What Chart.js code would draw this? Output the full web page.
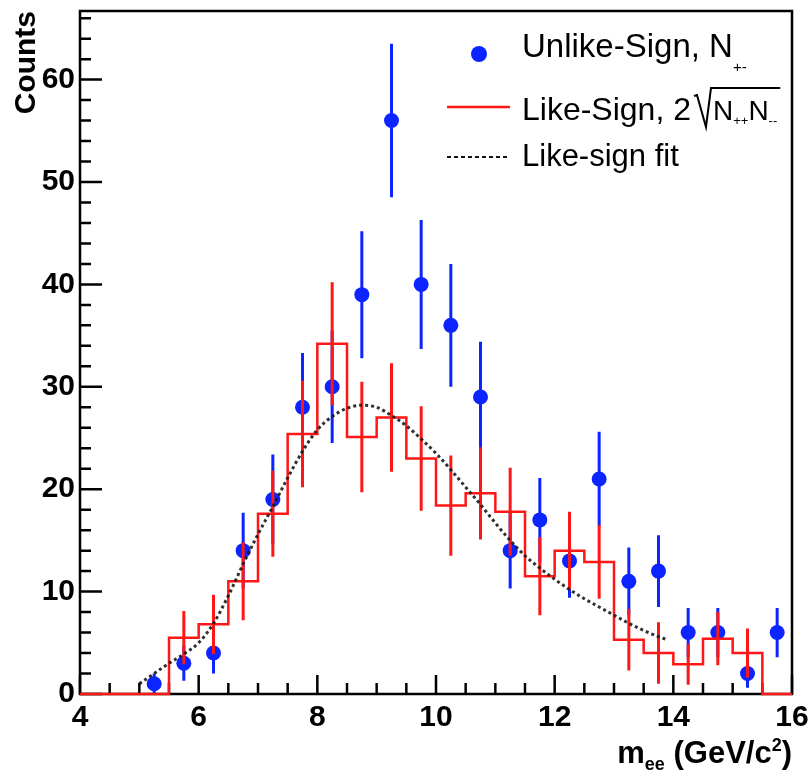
<!DOCTYPE html>
<html lang="en">
<head>
<meta charset="UTF-8">
<title>Unlike-sign vs like-sign mee</title>
<script src="https://cdn.jsdelivr.net/npm/chart.js"></script>
<style>
  body { margin: 0; background: #fff; }
  #wrap { position: relative; width: 810px; height: 772px; }
</style>
</head>
<body>
<div id="wrap"><canvas id="meeChart"></canvas></div>
<script>
// unlike-sign points (bin centres, counts, stat errors)
const binCenters = [5.25, 5.75, 6.25, 6.75, 7.25, 7.75, 8.25, 8.75, 9.25, 9.75, 10.25,
                    10.75, 11.25, 11.75, 12.25, 12.75, 13.25, 13.75, 14.25, 14.75, 15.25, 15.75];
const unlikeCounts = [1, 3, 4, 14, 19, 28, 30, 39, 56, 40, 36, 29, 14, 17, 13, 21, 11, 12, 6, 6, 2, 6];
const unlikeErr = [1.0, 1.7, 2.0, 3.7, 4.4, 5.3, 5.5, 6.2, 7.5, 6.3, 6.0, 5.4, 3.7, 4.1, 3.6, 4.6, 3.3, 3.5, 2.4, 2.4, 1.4, 2.4];

// like-sign histogram, 0.5 wide bins from 4 to 16
const histEdges = [4, 4.5, 5, 5.5, 6, 6.5, 7, 7.5, 8, 8.5, 9, 9.5, 10, 10.5, 11, 11.5, 12, 12.5,
                   13, 13.5, 14, 14.5, 15, 15.5, 16];
const likeValues = [0, 0, 0, 5.5, 6.8, 11, 17.6, 25.4, 34.2, 25.1, 27, 23, 18.4, 19.6, 17.8, 11.5,
                    14, 12.9, 5.3, 4, 2.9, 5.4, 4, 0];
const likeErr = [0, 0, 0, 2.6, 2.9, 3.8, 4.2, 5.2, 6.0, 5.4, 5.3, 5.1, 4.9, 4.5, 4.3, 3.8,
                 3.8, 3.6, 3.0, 3.0, 2.0, 2.6, 2.4, 0];

// like-sign fit curve
const fitX = [5.0, 5.25, 5.5, 5.75, 6.0, 6.25, 6.5, 6.75, 7.0, 7.25, 7.5, 7.75, 8.0, 8.25, 8.5, 8.75,
              9.0, 9.25, 9.5, 9.75, 10.0, 10.25, 10.5, 10.75, 11.0, 11.25, 11.5, 11.75, 12.0, 12.25,
              12.5, 12.75, 13.0, 13.25, 13.5, 13.75, 13.9];
const fitY = [1.0, 2.0, 3.0, 3.9, 5.0, 6.9, 9.6, 12.7, 15.6, 18.3, 21.1, 23.7, 25.8, 27.1, 27.9, 28.2,
              28.0, 27.2, 26.2, 24.9, 23.5, 21.9, 20.2, 18.5, 16.7, 15.0, 13.5, 12.3, 11.2, 10.2,
              9.3, 8.5, 7.7, 6.9, 6.2, 5.6, 5.3];

const xTicks = [4, 6, 8, 10, 12, 14, 16];
const yTicks = [0, 10, 20, 30, 40, 50, 60];

const FONT = '"Liberation Sans", Arial, Helvetica, sans-serif';
const BLUE = 'rgb(12, 36, 255)';
const RED = 'rgb(255, 22, 22)';

const likeCenters = likeValues.map((v, i) => histEdges[i] + 0.25);
const histPoints = histEdges.map((x, i) => ({ x: x, y: i < likeValues.length ? likeValues[i] : likeValues[likeValues.length - 1] }));

function drawErrors(chart, xs, ys, errs, color) {
    const sx = chart.scales.x, sy = chart.scales.y, ctx = chart.ctx;
    ctx.save();
    ctx.strokeStyle = color;
    ctx.lineWidth = 3;
    ctx.beginPath();
    xs.forEach((v, i) => {
        if (!errs[i]) return;
        const px = sx.getPixelForValue(v);
        ctx.moveTo(px, sy.getPixelForValue(ys[i] - errs[i]));
        ctx.lineTo(px, sy.getPixelForValue(ys[i] + errs[i]));
    });
    ctx.stroke();
    ctx.restore();
}

// frame with inward ticks (ROOT style), error bars, legend and x title
const rootStyle = {
    id: 'rootStyle',
    beforeDatasetsDraw(chart) {
        const ctx = chart.ctx, a = chart.chartArea;
        const sx = chart.scales.x, sy = chart.scales.y;
        ctx.save();
        ctx.strokeStyle = '#000';
        ctx.lineWidth = 2.5;
        ctx.strokeRect(a.left, a.top, a.right - a.left, a.bottom - a.top);
        ctx.beginPath();
        for (let v = 4; v <= 16; v += 0.5) {
            const px = sx.getPixelForValue(v);
            ctx.moveTo(px, a.bottom);
            ctx.lineTo(px, a.bottom - (v % 2 === 0 ? 19 : 11));
        }
        for (let v = 0; v <= 66; v += 2) {
            const py = sy.getPixelForValue(v);
            ctx.moveTo(a.left, py);
            ctx.lineTo(a.left + (v % 10 === 0 ? 22 : 11), py);
        }
        ctx.stroke();
        ctx.restore();
    },
    beforeDatasetDraw(chart, args) {
        if (args.index === 2) drawErrors(chart, binCenters, unlikeCounts, unlikeErr, BLUE);
    },
    afterDatasetDraw(chart, args) {
        if (args.index === 1) drawErrors(chart, likeCenters, likeValues, likeErr, RED);
    },
    afterDraw(chart) {
        const ctx = chart.ctx;
        ctx.save();
        ctx.fillStyle = '#000';
        ctx.textBaseline = 'alphabetic';
        ctx.textAlign = 'left';

        // legend entry 1
        ctx.fillStyle = BLUE;
        ctx.beginPath();
        ctx.arc(479, 54, 8, 0, Math.PI * 2);
        ctx.fill();
        ctx.fillStyle = '#000';
        ctx.font = `33px ${FONT}`;
        ctx.fillText('Unlike-Sign, N', 522, 57);
        let w = ctx.measureText('Unlike-Sign, N').width;
        ctx.font = `15px ${FONT}`;
        ctx.fillText('+-', 522 + w, 72);

        // legend entry 2
        ctx.strokeStyle = RED;
        ctx.lineWidth = 2.5;
        ctx.beginPath();
        ctx.moveTo(447, 107);
        ctx.lineTo(510, 107);
        ctx.stroke();
        ctx.font = `32px ${FONT}`;
        ctx.fillText('Like-Sign, 2', 522, 120);
        let px = 522 + ctx.measureText('Like-Sign, 2').width + 3;
        const radStart = px;
        px += 19;
        const parts = [['N', 28, 120], ['++', 13, 125], ['N', 28, 120], ['--', 13, 125]];
        parts.forEach(p => {
            ctx.font = `${p[1]}px ${FONT}`;
            ctx.fillText(p[0], px, p[2]);
            px += ctx.measureText(p[0]).width;
        });
        ctx.strokeStyle = '#000';
        ctx.lineWidth = 2;
        ctx.beginPath();
        ctx.moveTo(radStart, 96);
        ctx.lineTo(radStart + 3, 95);
        ctx.lineTo(radStart + 12, 127);
        ctx.lineTo(radStart + 17, 88);
        ctx.lineTo(Math.min(px + 3, 781), 88);
        ctx.stroke();

        // legend entry 3
        ctx.strokeStyle = '#111';
        ctx.lineWidth = 2;
        ctx.setLineDash([4, 3]);
        ctx.beginPath();
        ctx.moveTo(447, 157);
        ctx.lineTo(510, 157);
        ctx.stroke();
        ctx.setLineDash([]);
        ctx.font = `31px ${FONT}`;
        ctx.fillText('Like-sign fit', 522, 166);

        // x axis title, right aligned: m_ee (GeV/c^2)
        const tparts = [['m', 31, 0], ['ee', 18, 7], [' (GeV/c', 31, 0], ['2', 18, -12], [')', 31, 0]];
        let total = 0;
        tparts.forEach(p => { ctx.font = `bold ${p[1]}px ${FONT}`; total += ctx.measureText(p[0]).width; });
        let tx = 792 - total;
        tparts.forEach(p => {
            ctx.font = `bold ${p[1]}px ${FONT}`;
            ctx.fillText(p[0], tx, 763 + p[2]);
            tx += ctx.measureText(p[0]).width;
        });
        ctx.restore();
    }
};

const ctx = document.getElementById('meeChart').getContext('2d');
new Chart(ctx, {
    type: 'line',
    data: {
        datasets: [
            {
                label: 'Like-sign fit',
                data: fitX.map((x, i) => ({ x: x, y: fitY[i] })),
                borderColor: 'rgba(25, 25, 25, 0.9)',
                borderWidth: 3,
                borderDash: [3, 3],
                pointRadius: 0,
                cubicInterpolationMode: 'monotone',
                order: 0
            },
            {
                label: 'Like-Sign',
                data: histPoints,
                borderColor: RED,
                borderWidth: 2.5,
                stepped: true,
                pointRadius: 0,
                fill: false,
                clip: false,
                order: 1
            },
            {
                label: 'Unlike-Sign',
                data: binCenters.map((x, i) => ({ x: x, y: unlikeCounts[i] })),
                showLine: false,
                pointRadius: 7.5,
                pointBackgroundColor: BLUE,
                pointBorderWidth: 0,
                clip: false,
                order: 2
            }
        ]
    },
    options: {
        responsive: true,
        maintainAspectRatio: false,
        animation: false,
        layout: { padding: { top: 11, right: 18, left: 0, bottom: 0 } },
        plugins: {
            legend: { display: false },
            tooltip: { enabled: false }
        },
        scales: {
            x: {
                type: 'linear',
                min: 4,
                max: 16,
                grid: { display: false, drawTicks: false },
                border: { display: false },
                afterBuildTicks: s => { s.ticks = xTicks.map(v => ({ value: v })); },
                afterFit: s => { s.height = 78; s.paddingLeft = 0; s.paddingRight = 0; },
                ticks: {
                    padding: 6,
                    maxRotation: 0,
                    color: '#000',
                    font: { family: FONT, size: 30, weight: 'bold' }
                }
            },
            y: {
                type: 'linear',
                min: 0,
                max: 66.7,
                grid: { display: false, drawTicks: false },
                border: { display: false },
                afterBuildTicks: s => { s.ticks = yTicks.map(v => ({ value: v })); },
                afterFit: s => { s.width = 80; s.paddingTop = 0; s.paddingBottom = 0; },
                ticks: {
                    padding: 5,
                    color: '#000',
                    font: { family: FONT, size: 30, weight: 'bold' }
                },
                title: {
                    display: true,
                    text: 'Counts',
                    align: 'end',
                    color: '#000',
                    padding: { top: 9, bottom: 0 },
                    font: { family: FONT, size: 30, weight: 'bold' }
                }
            }
        }
    },
    plugins: [rootStyle]
});
</script>
</body>
</html>
